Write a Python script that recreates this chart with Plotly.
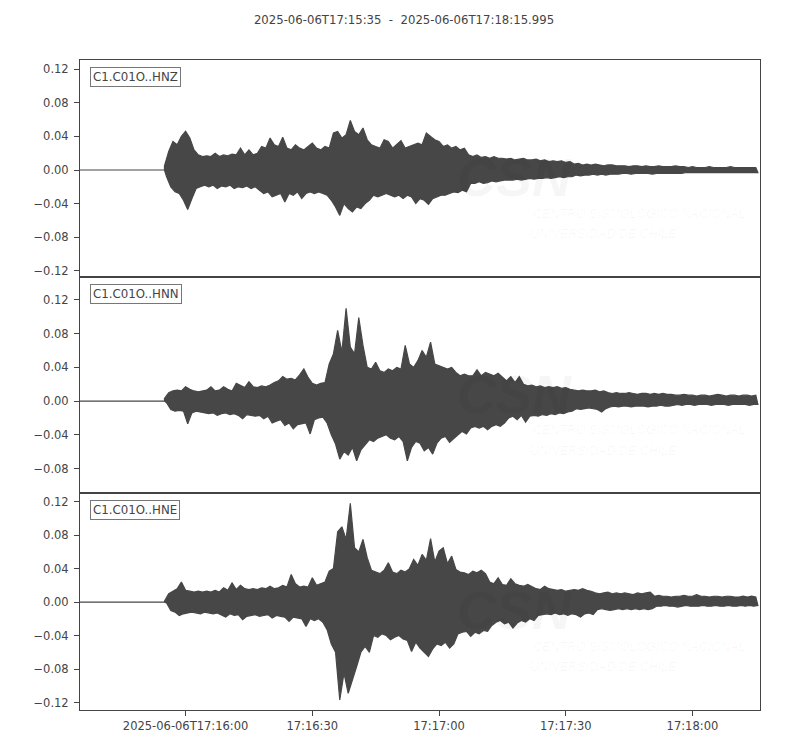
import numpy as np
import pandas as pd
import plotly.graph_objects as go
from plotly.subplots import make_subplots

# ventana del registro
INICIO = pd.Timestamp("2025-06-06T17:15:35")
FIN = pd.Timestamp("2025-06-06T17:18:15.995")
LLEGADA_P = 20  # segundos desde INICIO en que empieza la señal

ESTACIONES = ["C1.C01O..HNZ", "C1.C01O..HNN", "C1.C01O..HNE"]

# picos por segundo (milesimas), desde LLEGADA_P hasta el final
hnz_sup = [5, 22, 34, 30, 40, 46, 38, 24, 18, 16,
           17, 16, 20, 16, 18, 17, 19, 18, 26, 18,
           24, 18, 20, 28, 26, 38, 30, 28, 39, 26,
           24, 30, 26, 24, 28, 32, 26, 24, 28, 26,
           44, 46, 38, 42, 59, 46, 42, 50, 36, 30,
           28, 26, 36, 34, 26, 30, 35, 26, 28, 30,
           32, 30, 44, 40, 36, 34, 28, 30, 26, 28,
           24, 26, 18, 16, 18, 15, 16, 14, 16, 14,
           14, 13, 14, 12, 13, 14, 12, 12, 13, 11,
           12, 10, 11, 10, 11, 9, 10, 7, 8, 6,
           7, 6, 7, 6, 5, 6, 6, 5, 5, 5,
           4, 5, 5, 4, 5, 4, 4, 5, 4, 4,
           4, 5, 4, 4, 3, 4, 3, 3, 3, 4,
           3, 3, 3, 3, 4, 3, 3, 3, 3, 3, 3]
hnz_inf = [8, 20, 26, 28, 36, 47, 34, 22, 20, 18,
           20, 18, 22, 19, 20, 18, 22, 20, 21, 19,
           22, 20, 24, 28, 26, 32, 30, 28, 38, 28,
           30, 26, 34, 28, 26, 28, 26, 28, 30, 36,
           44, 54, 40, 46, 50, 44, 46, 40, 36, 30,
           32, 30, 28, 30, 32, 30, 34, 30, 32, 40,
           34, 36, 41, 34, 32, 30, 30, 28, 26, 27,
           24, 26, 16, 16, 14, 16, 15, 13, 14, 13,
           12, 12, 12, 11, 12, 11, 10, 11, 10, 10,
           9, 10, 9, 8, 9, 8, 8, 6, 7, 6,
           6, 5, 6, 5, 6, 5, 5, 5, 4, 4,
           5, 4, 4, 4, 4, 5, 4, 4, 4, 4,
           4, 4, 4, 3, 3, 3, 3, 3, 3, 3,
           3, 3, 3, 3, 3, 3, 3, 3, 3, 3, 3]

hnn_sup = [3, 10, 12, 13, 12, 17, 14, 12, 11, 12,
           13, 17, 12, 13, 17, 14, 12, 21, 18, 16,
           23, 17, 16, 18, 17, 19, 22, 24, 29, 26,
           27, 25, 31, 38, 28, 21, 19, 21, 22, 44,
           56, 84, 58, 110, 64, 56, 99, 66, 40, 38,
           46, 36, 34, 38, 36, 40, 38, 66, 44, 40,
           48, 60, 52, 70, 44, 42, 40, 38, 40, 34,
           30, 32, 30, 30, 37, 30, 34, 32, 30, 33,
           28, 24, 29, 22, 29, 20, 18, 19, 17, 18,
           16, 17, 16, 17, 15, 16, 14, 13, 12, 13,
           12, 12, 13, 11, 12, 10, 9, 10, 9, 9,
           10, 9, 8, 9, 9, 8, 9, 8, 9, 8,
           8, 7, 7, 8, 7, 7, 6, 7, 7, 6,
           7, 8, 7, 6, 7, 7, 6, 7, 7, 6, 7]
hnn_inf = [2, 10, 12, 11, 12, 27, 14, 12, 13, 14,
           15, 14, 17, 15, 14, 16, 15, 17, 21, 16,
           17, 18, 17, 21, 18, 26, 24, 22, 29, 26,
           33, 28, 27, 26, 39, 22, 20, 19, 26, 40,
           51, 69, 60, 64, 55, 71, 58, 52, 46, 48,
           44, 42, 40, 44, 46, 42, 48, 71, 55, 48,
           50, 59, 55, 63, 50, 44, 42, 49, 44, 40,
           36, 39, 32, 30, 32, 30, 34, 30, 28, 30,
           26, 20, 18, 22, 17, 25, 18, 17, 18, 16,
           17, 15, 16, 14, 15, 13, 12, 9, 10, 9,
           8, 9, 10, 13, 9, 7, 6, 7, 6, 6,
           7, 6, 6, 6, 7, 6, 6, 5, 6, 6,
           5, 4, 5, 4, 4, 5, 4, 4, 4, 5,
           4, 4, 4, 5, 4, 4, 4, 4, 5, 4, 4]

hne_sup = [1, 10, 13, 16, 24, 14, 13, 12, 13, 12,
           13, 12, 14, 12, 17, 14, 23, 15, 20, 16,
           15, 16, 15, 17, 16, 19, 16, 17, 20, 18,
           33, 22, 18, 19, 18, 29, 20, 22, 24, 37,
           40, 84, 90, 75, 118, 65, 60, 75, 53, 38,
           36, 34, 38, 47, 36, 34, 38, 36, 40, 51,
           44, 57, 50, 76, 48, 61, 65, 46, 55, 39,
           36, 35, 33, 37, 35, 38, 34, 24, 22, 29,
           21, 20, 28, 22, 20, 19, 21, 18, 16, 15,
           19, 16, 15, 14, 15, 13, 14, 15, 14, 16,
           14, 13, 11, 10, 11, 12, 10, 11, 10, 11,
           10, 9, 11, 10, 11, 12, 7, 8, 7, 7,
           6, 7, 7, 8, 7, 7, 9, 7, 7, 6,
           7, 7, 6, 7, 7, 6, 6, 7, 6, 7, 6]
hne_inf = [1, 10, 12, 16, 14, 13, 12, 13, 14, 12,
           13, 14, 13, 15, 18, 14, 16, 15, 21, 17,
           16, 15, 17, 16, 15, 19, 16, 17, 18, 23,
           18, 19, 20, 29, 20, 22, 20, 24, 33, 50,
           60, 117, 85, 109, 94, 77, 60, 53, 60, 40,
           42, 38, 40, 45, 42, 40, 44, 46, 59, 48,
           55, 60, 65, 56, 50, 52, 48, 55, 50, 38,
           36, 35, 41, 36, 38, 34, 35, 28, 24, 22,
           26, 24, 31, 25, 22, 24, 20, 22, 16, 15,
           14, 15, 13, 15, 14, 16, 14, 15, 18, 14,
           13, 15, 9, 8, 9, 10, 9, 8, 9, 8,
           9, 8, 9, 8, 9, 8, 5, 5, 4, 5,
           5, 6, 5, 4, 5, 5, 5, 4, 5, 5,
           4, 5, 5, 4, 5, 5, 4, 5, 4, 5, 4]

# rango vertical de cada panel y sus marcas
rangos_y = [[-0.127, 0.131], [-0.1095, 0.1476], [-0.129, 0.130]]
marcas_y = [[-0.12, -0.08, -0.04, 0.0, 0.04, 0.08, 0.12],
            [-0.08, -0.04, 0.0, 0.04, 0.08, 0.12],
            [-0.12, -0.08, -0.04, 0.0, 0.04, 0.08, 0.12]]

marcas_x = ["2025-06-06T17:16:00", "2025-06-06T17:16:30", "2025-06-06T17:17:00",
            "2025-06-06T17:17:30", "2025-06-06T17:18:00"]
etiquetas_x = ["2025-06-06T17:16:00", "17:16:30", "17:17:00", "17:17:30", "17:18:00"]

COLOR = "#474747"
GRIS = "#444444"
TENUE = "rgba(0,0,0,0.035)"


def banda(sup, inf):
    # contorno: picos positivos de ida y negativos de vuelta (desfasados medio segundo)
    t_sup = [INICIO + pd.Timedelta(seconds=LLEGADA_P + i) for i in range(len(sup))]
    t_inf = [INICIO + pd.Timedelta(seconds=LLEGADA_P + i + 0.5) for i in range(len(inf))]
    xs = [INICIO, t_sup[0]] + t_sup + t_inf[::-1] + [t_sup[0], INICIO]
    ys = [0.0, 0.0] + [v / 1000 for v in sup] + [-v / 1000 for v in inf[::-1]] + [0.0, 0.0]
    return xs, ys


fig = make_subplots(rows=3, cols=1, shared_xaxes=True, vertical_spacing=0)

datos = [(hnz_sup, hnz_inf), (hnn_sup, hnn_inf), (hne_sup, hne_inf)]
for i, (sup, inf) in enumerate(datos):
    fila = i + 1
    xs, ys = banda(sup, inf)
    fig.add_trace(go.Scatter(x=xs, y=ys, mode="lines", fill="toself", fillcolor=COLOR,
                             line=dict(color=COLOR, width=1.2),
                             showlegend=False, hoverinfo="skip"),
                  row=fila, col=1)

    ref = "" if fila == 1 else str(fila)
    # marca de agua (muy tenue)
    fig.add_annotation(xref=f"x{ref} domain", yref=f"y{ref} domain", x=0.552, y=0.46,
                       text="<b><i>CSN</i></b>", showarrow=False, xanchor="left",
                       font=dict(size=54, color=TENUE, family="Liberation Sans"))
    fig.add_annotation(xref=f"x{ref} domain", yref=f"y{ref} domain", x=0.663, y=0.25,
                       text="<i>CENTRO SISMOLÓGICO NACIONAL</i>", showarrow=False, xanchor="left",
                       font=dict(size=12.5, color=TENUE, family="Liberation Sans"))
    fig.add_annotation(xref=f"x{ref} domain", yref=f"y{ref} domain", x=0.659, y=0.155,
                       text="<i>UNIVERSIDAD DE CHILE</i>", showarrow=False, xanchor="left",
                       font=dict(size=12.5, color=TENUE, family="Liberation Sans"))
    # nombre de la estacion
    fig.add_annotation(xref=f"x{ref} domain", yref=f"y{ref} domain", x=0.014, y=0.968,
                       text=ESTACIONES[i], showarrow=False, xanchor="left", yanchor="top",
                       font=dict(size=11.8, color=GRIS), bgcolor="white",
                       bordercolor="#777777", borderwidth=1, borderpad=2)

    fig.update_yaxes(range=rangos_y[i], tickvals=marcas_y[i], tickformat=".2f",
                     ticks="outside", ticklen=5, tickcolor=GRIS, ticklabelstandoff=3,
                     showline=True, linecolor=GRIS, linewidth=1, mirror=True,
                     showgrid=False, zeroline=False, row=fila, col=1)
    fig.update_xaxes(range=[INICIO, FIN], showline=True, linecolor=GRIS, linewidth=1,
                     mirror=True, showgrid=False, zeroline=False,
                     ticks="outside" if fila == 3 else "", ticklen=5, tickcolor=GRIS,
                     tickvals=marcas_x, ticktext=etiquetas_x, row=fila, col=1)

# la pagina deja 8 px de margen alrededor de la figura
fig.update_layout(
    width=792, height=742,
    margin=dict(l=72, r=40, t=52, b=40),
    paper_bgcolor="white", plot_bgcolor="white",
    font=dict(family="DejaVu Sans", size=11.5, color=GRIS),
    title=dict(text="2025-06-06T17:15:35\u00a0\u00a0-\u00a0\u00a02025-06-06T17:18:15.995",
               x=0.5, xanchor="center", y=1 - 12 / 742, yanchor="middle",
               font=dict(size=11.7, color=GRIS)),
)
fig.update_layout(title_xref="container")

fig.write_html("out.html")
